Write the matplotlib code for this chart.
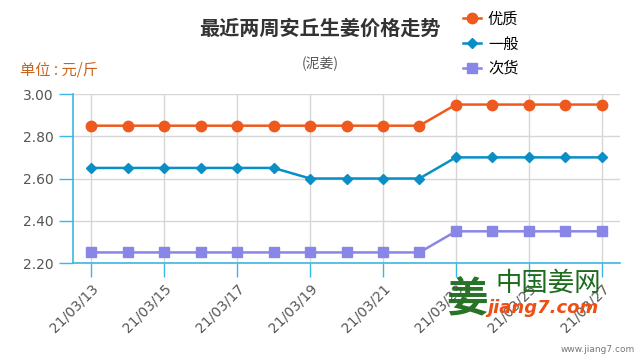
import matplotlib
matplotlib.use("Agg")
import matplotlib.pyplot as plt
import numpy as np

cjk = ['Noto Sans CJK SC', 'DejaVu Sans']

# Data
dates = ["21/03/13", "21/03/14", "21/03/15", "21/03/16", "21/03/17",
         "21/03/18", "21/03/19", "21/03/20", "21/03/21", "21/03/22",
         "21/03/23", "21/03/24", "21/03/25", "21/03/26", "21/03/27"]
youzhi = [2.85, 2.85, 2.85, 2.85, 2.85, 2.85, 2.85, 2.85, 2.85, 2.85,
          2.95, 2.95, 2.95, 2.95, 2.95]
yiban = [2.65, 2.65, 2.65, 2.65, 2.65, 2.65, 2.60, 2.60, 2.60, 2.60,
         2.70, 2.70, 2.70, 2.70, 2.70]
cihuo = [2.25, 2.25, 2.25, 2.25, 2.25, 2.25, 2.25, 2.25, 2.25, 2.25,
         2.35, 2.35, 2.35, 2.35, 2.35]
yticks = [2.20, 2.40, 2.60, 2.80, 3.00]

c_you = "#ee5a1e"
c_yi = "#0a8ec6"
c_ci = "#8886e6"
c_axis = "#3bb6e6"
c_grid = "#d6d6d6"

fig = plt.figure(figsize=(6.4, 3.6), dpi=100)
ax = fig.add_axes([73/640, 1-263/360, (620-73)/640, (263-94)/360])

x = np.arange(len(dates))
l1, = ax.plot(x, youzhi, color=c_you, lw=1.8, marker='o', ms=7.5, label='优质', zorder=3)
l2, = ax.plot(x, yiban, color=c_yi, lw=1.8, marker='D', ms=5.5, label='一般', zorder=3)
l3, = ax.plot(x, cihuo, color=c_ci, lw=1.8, marker='s', ms=7, label='次货', zorder=3)

ax.set_xlim(-0.5, 14.5)
ax.set_ylim(2.20, 3.00)
ax.set_yticks(yticks)
ax.set_yticklabels([f"{v:.2f}" for v in yticks])
ax.set_xticks(x[::2])
ax.set_xticklabels(dates[::2], rotation=45, ha='right', rotation_mode='anchor')

ax.grid(True, color=c_grid, lw=1)
ax.set_axisbelow(True)
for s in ['top', 'right']:
    ax.spines[s].set_visible(False)
for s in ['left', 'bottom']:
    ax.spines[s].set_color(c_axis)
    ax.spines[s].set_linewidth(1.2)
ax.tick_params(axis='both', colors=c_axis, length=10, width=1, labelsize=10, pad=4)
ax.tick_params(axis='x', pad=3)
for lab in ax.get_xticklabels() + ax.get_yticklabels():
    lab.set_color('#555555')

# Titles
fig.text(320/640, 1-28/360, "最近两周安丘生姜价格走势", family=cjk, fontsize=14.5,
         fontweight='bold', color='#333333', ha='center', va='center')
fig.text(320/640, 1-64/360, "(泥姜)", family=cjk, fontsize=10,
         color='#555555', ha='center', va='center')
fig.text(20/640, 1-70/360, "单位 : 元/斤", family=cjk, fontsize=11,
         color='#c8641e', ha='left', va='center')

leg = fig.legend(handles=[l1, l2, l3], loc='upper left', bbox_to_anchor=(452/640, 1.0),
                 frameon=False, prop={'family': cjk, 'size': 11},
                 handlelength=1.2, handletextpad=0.45, labelspacing=0.5, borderpad=0.2)

# Watermark
fig.text(467/640, 1-300/360, "姜", family=cjk, fontsize=30, fontweight='bold',
         color='#1d6b1d', ha='center', va='center', alpha=0.95)
fig.text(548/640, 1-283/360, "中国姜网", family=cjk, fontsize=19,
         color='#1d6b1d', ha='center', va='center')
fig.text(543/640, 1-308/360, "jiang7.com", family='DejaVu Sans', fontsize=13,
         fontweight='bold', fontstyle='italic', color='#f04e14', ha='center', va='center')
fig.text(635/640, 1-350/360, "www.jiang7.com", family='DejaVu Sans', fontsize=6.5,
         color='#777777', ha='right', va='center')

fig.savefig("out.png", dpi=100)
